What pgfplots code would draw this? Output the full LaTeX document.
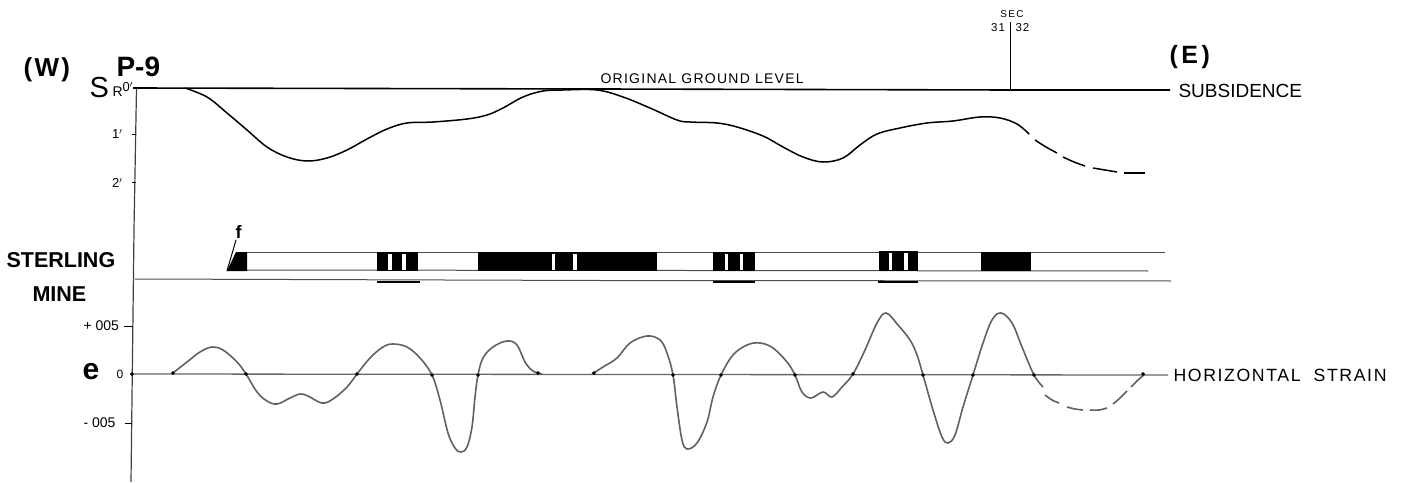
\documentclass[border=0pt]{standalone}
\usepackage{fontspec}
\setmainfont{Liberation Sans}
\newfontfamily\lsfont[LetterSpace=9]{Liberation Sans}
\newfontfamily\lswide[LetterSpace=14]{Liberation Sans}
\usepackage{pgfplots}
\pgfplotsset{compat=1.18}
\newcommand{\fs}[1]{\fontsize{#1}{#1}\selectfont}
\begin{document}
\begin{tikzpicture}
\begin{axis}[
  scale only axis, width=1406pt, height=484pt,
  xmin=0, xmax=1406, ymin=0, ymax=484, y dir=reverse,
  hide axis, clip=false,
  every node/.style={inner sep=0pt, outer sep=0pt, text=black},
  ln/.style={black, line width=1pt},
  sub/.style={black, line width=1.5pt, smooth, tension=0.6},
  str/.style={black!62, line width=1.6pt, smooth, tension=0.6},
  blk/.style={fill=black, draw=none},
  wht/.style={fill=white, draw=none},
]
% page extent
\addplot[draw=none, forget plot] coordinates {(0,0) (1406,484)};
% axis spine and ticks
\addplot[ln, line width=1.2pt, black!75] coordinates {(136.5,88) (134,230) (131,482)};
\addplot[ln] coordinates {(132,135) (136,135)};
\addplot[ln] coordinates {(132,183) (136,183)};
\addplot[ln] coordinates {(124,326) (133,326)};
\addplot[ln] coordinates {(125,423) (132,423)};
% ground line
\addplot[black, line width=1.6pt] coordinates {(133,88) (600,89) (1010,90) (1170,90)};
\addplot[ln] coordinates {(1010,22) (1010,89)};
% subsidence
\addplot[sub] coordinates {(185,88) (207,97) (227,113) (247,130) (267,147) (287,157) (307,161) (327,158) (347,150) (367,139) (387,129) (407,123) (433,122) (467,119) (487,115) (503,108) (523,97) (543,91) (563,90) (597,90) (623,97) (650,108) (677,120) (690,122) (717,123) (737,127) (763,136) (783,147) (803,157) (823,162) (843,158) (860,145) (877,134) (900,128) (927,123) (953,121) (980,117) (1000,118) (1017,124) (1029,134)};
\addplot[sub] coordinates {(1035,140) (1046,147) (1057,153)};
\addplot[sub] coordinates {(1063,157) (1074,162) (1085,166)};
\addplot[sub] coordinates {(1093,168) (1105,170) (1117,172)};
\addplot[sub] coordinates {(1124,173) (1135,173) (1145,173)};
% mine lines
\addplot[ln, black!70] coordinates {(236,252) (1165,252)};
\addplot[ln, black!70] coordinates {(227,270) (1148,271)};
\addplot[ln, black!70] coordinates {(135,279) (600,280.5) (1171,281)};
\addplot[black, line width=1.3pt] coordinates {(377,282) (420,282)};
\addplot[black, line width=1.3pt] coordinates {(713,282) (755,282)};
\addplot[black, line width=1.3pt] coordinates {(878,282) (918,282)};
% mined panels
\addplot[blk] coordinates {(227,271) (236,252) (247,252) (247,271)} -- cycle;
\addplot[ln] coordinates {(236,240) (227,271)};
\addplot[blk] coordinates {(377,252) (418,252) (418,271) (377,271)} -- cycle;
\addplot[wht] coordinates {(388,254) (392,254) (392,270) (388,270)} -- cycle;
\addplot[wht] coordinates {(402,254) (406,254) (406,270) (402,270)} -- cycle;
\addplot[blk] coordinates {(478,252) (657,252) (657,271) (478,271)} -- cycle;
\addplot[wht] coordinates {(552,254) (555,254) (555,270) (552,270)} -- cycle;
\addplot[wht] coordinates {(573,254) (577,254) (577,270) (573,270)} -- cycle;
\addplot[blk] coordinates {(713,252) (755,252) (755,271) (713,271)} -- cycle;
\addplot[wht] coordinates {(725,254) (728,254) (728,270) (725,270)} -- cycle;
\addplot[wht] coordinates {(740,254) (743,254) (743,270) (740,270)} -- cycle;
\addplot[blk] coordinates {(879,251) (918,251) (918,271) (879,271)} -- cycle;
\addplot[wht] coordinates {(889,253) (892,253) (892,270) (889,270)} -- cycle;
\addplot[wht] coordinates {(904,253) (908,253) (908,270) (904,270)} -- cycle;
\addplot[blk] coordinates {(981,252) (1031,252) (1031,271) (981,271)} -- cycle;
% strain
\addplot[black!60, line width=1.3pt] coordinates {(130,374) (1168,375)};
\addplot[str] coordinates {(173,373) (187,362) (200,352) (212,347) (223,350) (237,362) (246,374) (257,392) (267,401) (277,404) (290,398) (300,394) (308,396) (322,403) (333,399) (347,387) (357,374) (370,358) (383,347) (393,344) (407,347) (420,358) (432,375) (440,400) (448,433) (455,448) (461,452) (467,447) (472,427) (475,397) (478,375) (483,358) (493,347) (507,341) (517,345) (525,362) (533,371) (542,374)};
\addplot[str] coordinates {(592,374) (603,367) (617,358) (630,343) (647,336) (660,340) (667,353) (673,375) (677,407) (682,440) (687,449) (697,443) (707,422) (713,397) (721,375) (733,355) (747,345) (760,343) (773,348) (787,362) (795,375) (802,392) (811,398) (823,392) (832,397) (842,387) (853,374) (865,350) (877,323) (886,313) (898,325) (910,340) (917,355) (923,375) (933,410) (942,437) (948,443) (955,435) (963,407) (973,375) (983,343) (992,320) (1001,313) (1012,323) (1022,347) (1034,375) (1043,387)};
\addplot[str] coordinates {(1045,395) (1052,400) (1059,403)};
\addplot[str] coordinates {(1067,407) (1075,409) (1083,410)};
\addplot[str] coordinates {(1090,410) (1099,410) (1107,408)};
\addplot[str] coordinates {(1113,404) (1120,398) (1127,391)};
\addplot[str] coordinates {(1131,387) (1138,380) (1145,374)};
\addplot[only marks, mark=*, mark size=1.6pt, black] coordinates {(132,374) (173,373) (246,374) (357,374) (432,375) (478,375) (538,373) (594,373) (673,375) (721,375) (795,375) (853,374) (923,375) (973,375) (1034,375) (1143,374)};
% text
\node[anchor=west] at (axis cs:20,70) {\fs{26}\bfseries\lsfont (W)};
\node[anchor=west] at (axis cs:113,67) {\fs{28}\bfseries P-9};
\node[anchor=west] at (axis cs:86,88) {\fs{29}S};
\node[anchor=west] at (axis cs:109,92) {\fs{14}R};
\node[anchor=west] at (axis cs:119,87) {\fs{13}0$'$};
\node[anchor=east] at (axis cs:126,134) {\fs{13}1$'$};
\node[anchor=east] at (axis cs:126,183) {\fs{13}2$'$};
\node[anchor=west] at (axis cs:597,79) {\fs{14}\lsfont ORIGINAL GROUND LEVEL};
\node[anchor=center] at (axis cs:1012,14) {\fs{10}\lswide SEC};
\node[anchor=east] at (axis cs:1008.5,28) {\fs{11.5}\lsfont 31};
\node[anchor=west] at (axis cs:1012,28) {\fs{11.5}\lsfont 32};
\node[anchor=west] at (axis cs:1166,57) {\fs{25}\bfseries\lswide (E)};
\node[anchor=west] at (axis cs:1175,90.5) {\fs{19}SUBSIDENCE};
\node[anchor=west] at (axis cs:232,232) {\fs{18}\bfseries f};
\node[anchor=west] at (axis cs:3,260) {\fs{21.5}\bfseries STERLING};
\node[anchor=west] at (axis cs:29,294) {\fs{21.5}\bfseries MINE};
\node[anchor=west] at (axis cs:80,326) {\fs{14}+ 005};
\node[anchor=west] at (axis cs:80,423) {\fs{14}- 005};
\node[anchor=west] at (axis cs:79,372) {\fs{30}\bfseries e};
\node[anchor=west] at (axis cs:113,374) {\fs{12}0};
\node[anchor=west] at (axis cs:1170,375) {\fs{17.7}\lsfont HORIZONTAL\ \ STRAIN};
\end{axis}
\end{tikzpicture}
\end{document}
